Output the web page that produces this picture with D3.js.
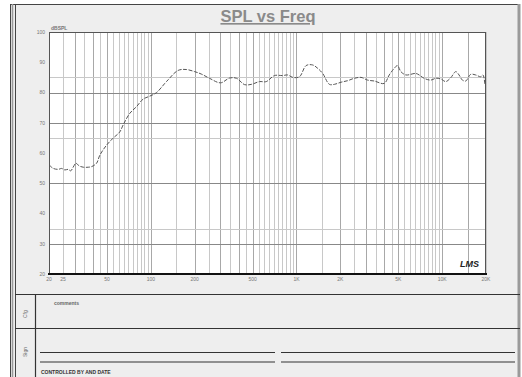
<!DOCTYPE html>
<html>
<head>
<meta charset="utf-8">
<script src="https://cdn.jsdelivr.net/npm/d3@7"></script>
<style>
  body { margin: 0; background: #fff; }
  svg { display: block; font-family: "Liberation Sans", Arial, sans-serif; }
</style>
</head>
<body>
<svg id="chart" width="522" height="377"></svg>
<script>
// response curve (Hz / dB SPL)
var freqs = [20.1, 21.4, 23.2, 24.4, 25.7, 27.1, 28.2, 29.3, 30.6, 32.3, 34.4, 37.2, 39.2,
    42.4, 44.7, 49.7, 55.1, 61.3, 64.6, 71.7, 79.7, 88.5, 98.3, 109, 128, 154, 175, 200,
    222, 253, 301, 348, 388, 440, 491, 557, 620, 706, 805, 871, 943, 1048, 1164, 1292,
    1398, 1513, 1682, 1820, 2023, 2245, 2494, 2773, 3078, 3420, 4000, 4333, 4690, 4935,
    5208, 5636, 6596, 6950, 7520, 8355, 9037, 9786, 10590, 11460, 12400, 13060, 13770,
    14530, 15710, 16990, 18400, 19060, 19680];
var spl = [56.0, 54.9, 54.6, 54.9, 54.4, 54.6, 54.1, 55.3, 56.6, 55.7, 55.3, 55.3, 55.5,
    56.6, 59.3, 62.6, 64.9, 67.0, 69.3, 73.1, 75.3, 77.8, 78.8, 79.9, 83.6, 87.3, 87.6, 86.9,
    86.1, 84.7, 83.2, 84.8, 84.7, 82.6, 82.7, 83.6, 83.6, 85.6, 85.6, 85.8, 85.0, 85.2, 88.9,
    89.1, 88.0, 86.3, 82.7, 82.7, 83.4, 83.9, 84.7, 85.0, 84.1, 83.8, 83.0, 85.8, 88.0, 88.9,
    86.9, 85.8, 86.3, 85.8, 84.7, 84.1, 84.7, 84.5, 83.6, 84.9, 86.9, 85.8, 84.1,
    83.8, 86.0, 85.8, 85.2, 85.8, 82.5];

var yTicks = [100, 90, 80, 70, 60, 50, 40, 30, 20];
var xTicks = [20, 25, 50, 100, 200, 500, 1000, 2000, 5000, 10000, 20000];
var xTickLabels = ["20", "25", "50", "100", "200", "500", "1K", "2K", "5K", "10K", "20K"];
var hGridDark = [80, 70, 50, 30];
var hGridLight = [85, 65, 35];

var svg = d3.select("#chart");

// frame
svg.append("rect").attr("x", 10).attr("y", 4).attr("width", 510).attr("height", 373).attr("fill", "#eeeeee");
svg.append("line").attr("x1", 10).attr("x2", 520).attr("y1", 4.5).attr("y2", 4.5).attr("stroke", "#444");
svg.append("line").attr("x1", 10.5).attr("x2", 10.5).attr("y1", 4).attr("y2", 377).attr("stroke", "#444");
svg.append("line").attr("x1", 12.5).attr("x2", 12.5).attr("y1", 4).attr("y2", 377).attr("stroke", "#999").attr("stroke-width", 1.5);
svg.append("line").attr("x1", 15.5).attr("x2", 15.5).attr("y1", 4).attr("y2", 377).attr("stroke", "#444");
svg.append("line").attr("x1", 519).attr("x2", 519).attr("y1", 4).attr("y2", 377).attr("stroke", "#9a9a9a").attr("stroke-width", 3);

// title
svg.append("text").attr("x", 268).attr("y", 22).attr("text-anchor", "middle")
    .style("font-size", "16.5px").style("font-weight", "bold").style("text-decoration", "underline")
    .attr("fill", "#8a8a8a").text("SPL vs Freq");

// scales
var x = d3.scaleLog().domain([20, 20000]).range([49, 486]);
var y = d3.scaleLinear().domain([20, 100]).range([274, 32]);

svg.append("rect").attr("x", 49).attr("y", 32).attr("width", 437).attr("height", 242).attr("fill", "#fff");

// vertical grid: every 5 Hz to 100, then 50 / 500 / 5000 steps
var vGrid = [];
[[20, 100, 5], [100, 1000, 50], [1000, 10000, 500], [10000, 20000, 5000]].forEach(function (s) {
    for (var f = s[0]; f <= s[1]; f += s[2]) vGrid.push(f);
});
var strong = [30, 40, 50, 100, 200, 300, 400, 500, 1000, 2000, 3000, 4000, 5000, 10000, 15000];
svg.append("g").selectAll("line").data(vGrid).enter().append("line")
    .attr("x1", function (d) { return Math.round(x(d)) + 0.5; })
    .attr("x2", function (d) { return Math.round(x(d)) + 0.5; })
    .attr("y1", 32).attr("y2", 274)
    .attr("stroke", function (d) { return strong.indexOf(d) >= 0 ? "#a8a8a8" : "#c8c8c8"; });

svg.append("g").selectAll("line").data(hGridLight).enter().append("line")
    .attr("x1", 49).attr("x2", 486)
    .attr("y1", function (d) { return Math.round(y(d)) + 0.5; })
    .attr("y2", function (d) { return Math.round(y(d)) + 0.5; })
    .attr("stroke", "#c8c8c8").attr("stroke-width", 1.2);
svg.append("g").selectAll("line").data(hGridDark).enter().append("line")
    .attr("x1", 49).attr("x2", 486)
    .attr("y1", function (d) { return Math.round(y(d)) + 0.5; })
    .attr("y2", function (d) { return Math.round(y(d)) + 0.5; })
    .attr("stroke", "#888").attr("stroke-width", 1.2);

// plot border
svg.append("rect").attr("x", 49.5).attr("y", 32.5).attr("width", 436).attr("height", 241)
    .attr("fill", "none").attr("stroke", "#555");
svg.append("line").attr("x1", 48).attr("x2", 487).attr("y1", 274).attr("y2", 274)
    .attr("stroke", "#111").attr("stroke-width", 2);

// axis labels
svg.append("g").selectAll("text").data(yTicks).enter().append("text")
    .attr("x", 45).attr("y", function (d) { return y(d); }).attr("dy", "0.35em")
    .attr("text-anchor", "end").style("font-size", "5px").attr("fill", "#777")
    .text(function (d) { return d; });
svg.append("g").selectAll("text").data(xTicks).enter().append("text")
    .attr("x", function (d) { return x(d); }).attr("y", 281)
    .attr("text-anchor", "middle").style("font-size", "5px").attr("fill", "#777")
    .text(function (d, i) { return xTickLabels[i]; });
svg.append("text").attr("x", 51).attr("y", 30).style("font-size", "5px").style("font-weight", "bold")
    .attr("fill", "#777").text("dBSPL");

// curve
var pts = freqs.map(function (f, i) { return { f: f, v: spl[i] }; });
var line = d3.line()
    .x(function (d) { return x(d.f); })
    .y(function (d) { return y(d.v); })
    .curve(d3.curveCatmullRom);
svg.append("path").attr("d", line(pts))
    .attr("fill", "none").attr("stroke", "#555").attr("stroke-width", 1)
    .attr("stroke-dasharray", "4,1.5");

// logo
svg.append("text").attr("x", 460).attr("y", 267).style("font-size", "9px")
    .style("font-style", "italic").style("font-weight", "bold").attr("fill", "#222").text("LMS");

// lower panels
var dark = "#333";
svg.append("line").attr("x1", 15).attr("x2", 520).attr("y1", 294.5).attr("y2", 294.5).attr("stroke", dark).attr("stroke-width", 1.2);
svg.append("line").attr("x1", 15).attr("x2", 520).attr("y1", 328.5).attr("y2", 328.5).attr("stroke", dark).attr("stroke-width", 1.2);
svg.append("line").attr("x1", 35.5).attr("x2", 35.5).attr("y1", 294).attr("y2", 377).attr("stroke", dark).attr("stroke-width", 1.2);

svg.append("text").attr("transform", "translate(27,314) rotate(-90)").attr("text-anchor", "middle")
    .style("font-size", "5px").attr("fill", "#666").text("Cfg");
svg.append("text").attr("transform", "translate(27,352) rotate(-90)").attr("text-anchor", "middle")
    .style("font-size", "5px").attr("fill", "#666").text("Sign");
svg.append("text").attr("x", 54).attr("y", 305).style("font-size", "5px").style("font-weight", "bold")
    .attr("fill", "#666").text("comments");

[[40, 275], [281, 515]].forEach(function (s) {
    [352.5, 362].forEach(function (yy) {
        svg.append("line").attr("x1", s[0]).attr("x2", s[1]).attr("y1", yy).attr("y2", yy)
            .attr("stroke", dark).attr("stroke-width", 1.2);
    });
});
svg.append("text").attr("x", 41).attr("y", 374).style("font-size", "5px").style("font-weight", "bold")
    .attr("fill", "#333").text("CONTROLLED BY AND DATE");
</script>
</body>
</html>
